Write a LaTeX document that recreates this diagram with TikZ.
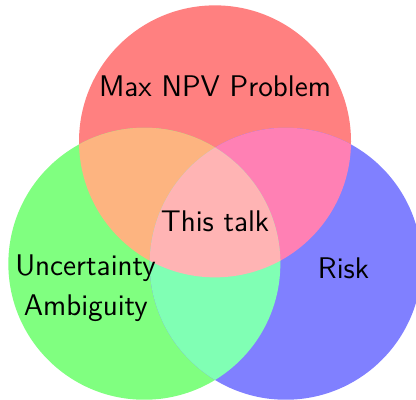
\documentclass[tikz,border=0pt]{standalone}
\usepackage{tikz}

\definecolor{npvred}{RGB}{255,128,128}
\definecolor{ambgreen}{RGB}{128,255,128}
\definecolor{riskblue}{RGB}{128,128,255}
\definecolor{redgreen}{RGB}{253,180,128}
\definecolor{redblue}{RGB}{255,128,180}
\definecolor{greenblue}{RGB}{128,255,180}
\definecolor{allthree}{RGB}{255,180,180}

\tikzset{
  setlabel/.style={font=\sffamily\fontsize{12.5pt}{15pt}\selectfont, anchor=base, inner sep=0pt}
}

\begin{document}
\begin{tikzpicture}
            \clip (-3.162,-2.603) rectangle (2.956,3.279);

            \fill[npvred] (90:1.2) circle(2);
            \fill[ambgreen] (210:1.2) circle(2);
            \fill[riskblue] (330:1.2) circle(2);

            % Pairwise overlaps
            \begin{scope}
            \clip (90:1.2) circle(2);
            \fill[redgreen] (210:1.2) circle(2);
            \fill[redblue] (330:1.2) circle(2);
            \end{scope}

            \begin{scope}
            \clip (210:1.2) circle(2);
            \fill[greenblue] (330:1.2) circle(2);
            \end{scope}

            % Centre
            \begin{scope}
            \clip (90:1.2) circle(2);
            \clip (210:1.2) circle(2);
            \fill[allthree] (330:1.2) circle(2);
            \end{scope}

            \node[setlabel] (npv) at (0,1.853) {Max NPV Problem};
            \node[setlabel] (talk) at (0,-0.132) {This talk};
            \node[setlabel] (uncert) at (-1.904,-0.779) {Uncertainty};
            \node[setlabel] (ambig) at (-1.9,-1.368) {Ambiguity};
            \node[setlabel] (risk) at (1.89,-0.824) {Risk};
        \end{tikzpicture}
\end{document}
